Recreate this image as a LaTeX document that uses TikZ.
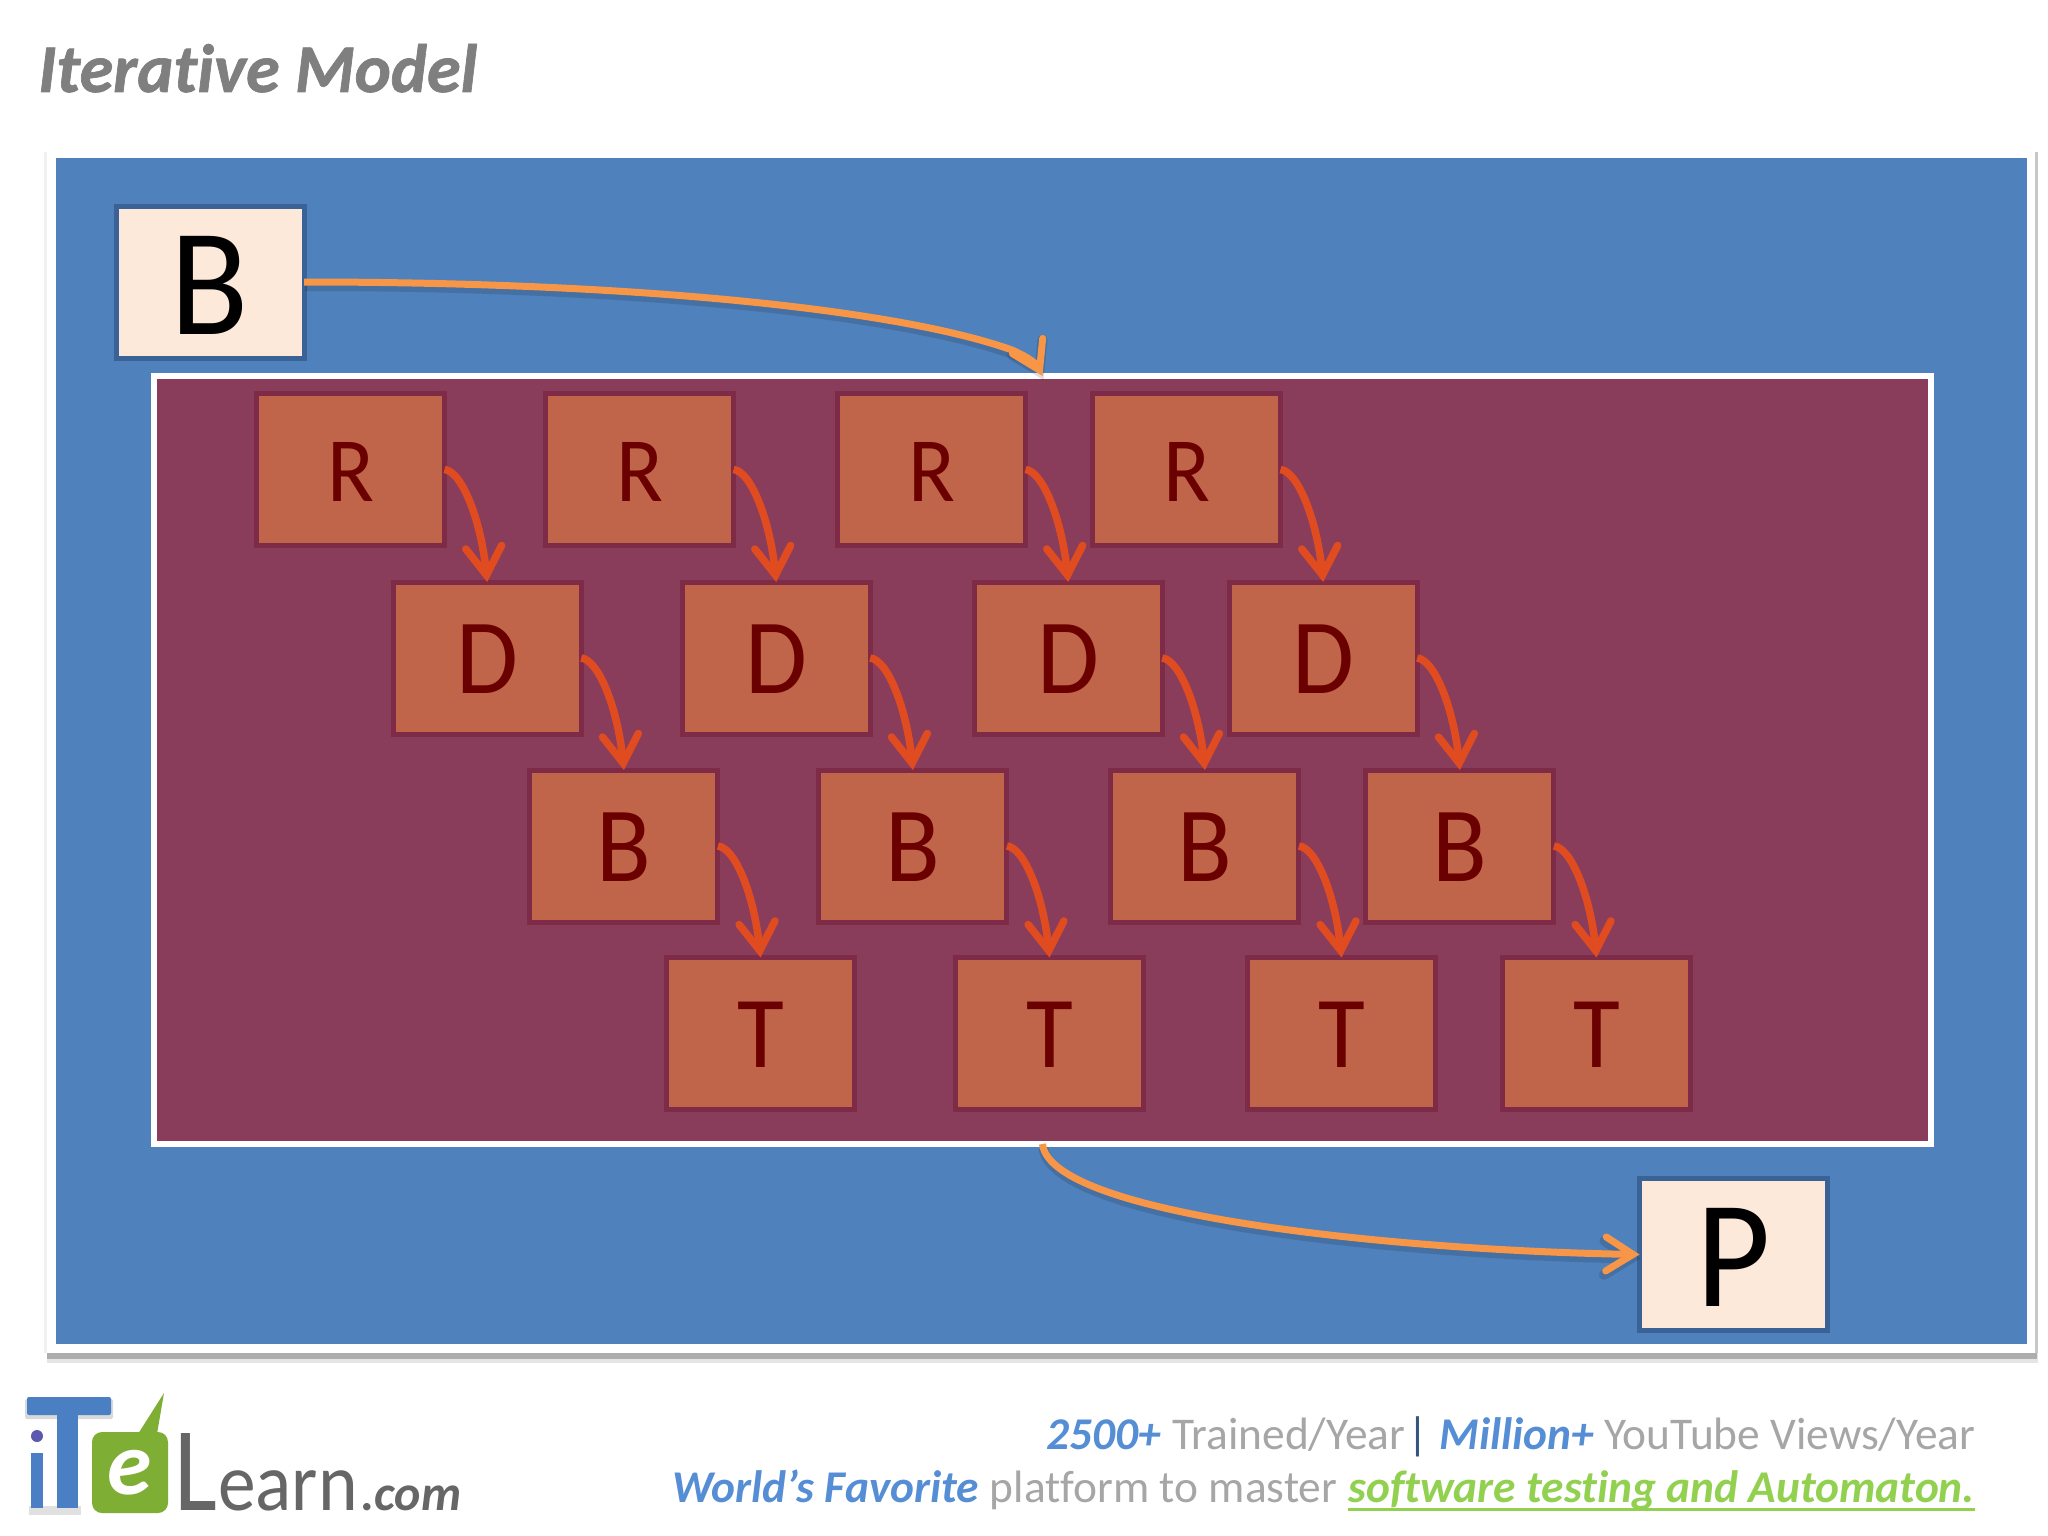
\documentclass[tikz,border=0pt]{standalone}
\usepackage{fontspec}
\setmainfont[Ligatures={NoCommon,TeX}]{Carlito}
\usetikzlibrary{arrows.meta}
\definecolor{bluebg}{HTML}{4F81BD}
\definecolor{plum}{HTML}{8A3D5A}
\definecolor{brick}{HTML}{C0654A}
\definecolor{brickedge}{HTML}{7D2B47}
\definecolor{cream}{HTML}{FDE9D9}
\definecolor{creamedge}{HTML}{3A6296}
\definecolor{lettered}{HTML}{6B0000}
\definecolor{orangeline}{HTML}{F79646}
\definecolor{redline}{HTML}{E04C20}
\definecolor{titlegray}{HTML}{7F7F7F}
\definecolor{footgray}{HTML}{A6A6A6}
\definecolor{footblue}{HTML}{558ED5}
\definecolor{footgreen}{HTML}{92D050}
\definecolor{logoblue}{HTML}{4A7FC4}
\definecolor{logogreen}{HTML}{7FAE35}
\definecolor{logogray}{HTML}{666666}
\newcommand\thinletter[2]{\rule{0pt}{#1}\scalebox{.94}[1]{#2}}
\tikzset{
  brickbox/.style={rectangle,draw=brickedge,fill=brick,line width=5pt,minimum width=188pt,minimum height=152pt,outer sep=0pt,inner sep=0pt,text=lettered},
  creambox/.style={rectangle,draw=creamedge,fill=cream,line width=5pt,minimum width=188pt,minimum height=152pt,outer sep=0pt,inner sep=0pt,text=black,font=\fontsize{153}{153}\selectfont},
  redarrow/.style={draw=redline,line width=7.5pt,-{Straight Barb[length=28pt,width=36pt,line cap=round]}},
  orangearrow/.style={draw=orangeline,line width=7pt,-{Straight Barb[length=27pt,width=34pt,line cap=round]},
     preaction={draw=black,draw opacity=.13,line width=10pt,transform canvas={shift={(1pt,-4pt)}}}},
  footnode/.style={inner sep=0pt,outer sep=0pt,anchor=base east,font=\fontsize{45.4}{45.4}\selectfont},
  footbold/.style={footnode,font=\fontsize{45.4}{45.4}\selectfont\bfseries\itshape},
}
\begin{document}
\begin{tikzpicture}[x=1pt,y=-1pt]
\useasboundingbox (0,0) rectangle (2048,1536);
\fill[white] (0,0) rectangle (2048,1536);
% title
\node[anchor=base west,inner sep=0pt,text=titlegray,font=\fontsize{68.4}{68.4}\selectfont\bfseries\itshape\addfontfeatures{FakeBold=1}] (title) at (38,92) {Iterative Model};
% outer frame
\fill[black!6] (44,152) rectangle (47,1353);
\fill[black!22] (2035,152) rectangle (2038,1358);
\fill[black!10] (47,1353) rectangle (2038,1363);
\fill[black!32] (47,1353) rectangle (2037,1359);
\node[rectangle,fill=white,minimum width=1988pt,minimum height=1203pt,inner sep=0pt,outer sep=0pt] (sheet) at (1041,751.5) {};
\node[rectangle,fill=bluebg,minimum width=1971.5pt,minimum height=1186pt,inner sep=0pt,outer sep=0pt] (blue) at (1041.25,751) {};
% inner panel
\node[rectangle,draw=white,fill=plum,line width=6pt,minimum width=1777pt,minimum height=768pt,inner sep=0pt,outer sep=0pt] (panel) at (1042.5,760) {};
% end boxes
\node[creambox] (src) at (210,282) {\thinletter{104pt}{B}};
\node[creambox] (dst) at (1733.5,1254.5) {\thinletter{104pt}{P}};
% iteration boxes
\foreach \col/\xx in {1/259,2/548,3/840,4/1095}{
  \node[brickbox,font=\fontsize{92}{92}\selectfont]   (r\col) at ({\xx+91.5},469.5) {\thinletter{64pt}{R}};
  \node[brickbox,font=\fontsize{107}{107}\selectfont] (d\col) at ({\xx+91.5+136.7},658) {\thinletter{70pt}{D}};
  \node[brickbox,font=\fontsize{107}{107}\selectfont] (b\col) at ({\xx+91.5+273.4},846) {\thinletter{70pt}{B}};
  \node[brickbox,font=\fontsize{102}{102}\selectfont] (t\col) at ({\xx+91.5+410},1033.5) {\thinletter{67pt}{T}};
}
\foreach \col in {1,2,3,4}{
  \draw[redarrow] (r\col.east) .. controls +(18,2) and +(-6,-60) .. (d\col.north);
  \draw[redarrow] (d\col.east) .. controls +(18,2) and +(-6,-60) .. (b\col.north);
  \draw[redarrow] (b\col.east) .. controls +(18,2) and +(-6,-60) .. (t\col.north);
}
% orange connectors
\coordinate (knee) at (1012,350);
\draw[orangearrow] (src.east) .. controls +(335,0) and +(-112,-40) .. (knee) .. controls +(18,8) and +(-6,-12) .. (panel.north);
\draw[orangearrow] (panel.south) .. controls +(8,72) and +(-240,-4) .. (dst.west);
% footer text
\node[footnode,text=footgray] (f1) at (1975.5,1449) {YouTube Views/Year};
\node[footbold,text=footblue] (f2) at ([xshift=-10pt]f1.base west) {Million+};
\node[footnode,text=footblue!60!black] (f3) at ([xshift=-11pt]f2.base west) {|};
\node[footnode,text=footgray] (f4) at ([xshift=-2pt]f3.base west) {Trained/Year};
\node[footbold,text=footblue] (f5) at ([xshift=-11pt]f4.base west) {2500+};
\node[footbold,text=footgreen] (g1) at (1975,1502) {software testing and Automaton.};
\draw[footgreen,line width=3pt] ([yshift=-7pt]g1.base west) -- ([yshift=-7pt]g1.base east);
\node[footnode,text=footgray] (g2) at ([xshift=-11pt]g1.base west) {platform to master};
\node[footbold,text=footblue] (g3) at ([xshift=-11pt]g2.base west) {World’s Favorite};
% logo
\fill[black!15,rounded corners=2pt] (25,1399) rectangle (113,1419);
\fill[logoblue,rounded corners=2pt] (27,1397) rectangle (111,1415);
\fill[black!12] (29,1506) rectangle (81,1515);
\fill[logoblue] (57,1413) rectangle (78,1508);
\fill[logoblue] (31,1453) rectangle (43,1508);
\fill[logoblue!70!violet] (37,1436) circle (6pt);
\fill[logogreen] (138,1434) -- (164,1393) -- (157,1434) -- cycle;
\fill[logogreen,rounded corners=10pt] (92,1432) rectangle (168,1513);
\node[text=white,inner sep=0pt,font=\fontsize{90}{90}\selectfont\bfseries\itshape] (logoe) at (130,1473) {e};
\node[anchor=base west,inner sep=0pt,text=logogray,xscale=.85,font=\fontsize{120}{120}\selectfont] (logol) at (174,1510) {L};
\node[anchor=base west,inner sep=0pt,text=logogray,xscale=.92,font=\fontsize{82}{82}\selectfont] (logon) at (218,1510) {earn};
\node[anchor=base west,inner sep=0pt,text=logogray,font=\fontsize{50}{50}\selectfont\bfseries\itshape] (logoc) at (361,1510) {.com};
\end{tikzpicture}
\end{document}
